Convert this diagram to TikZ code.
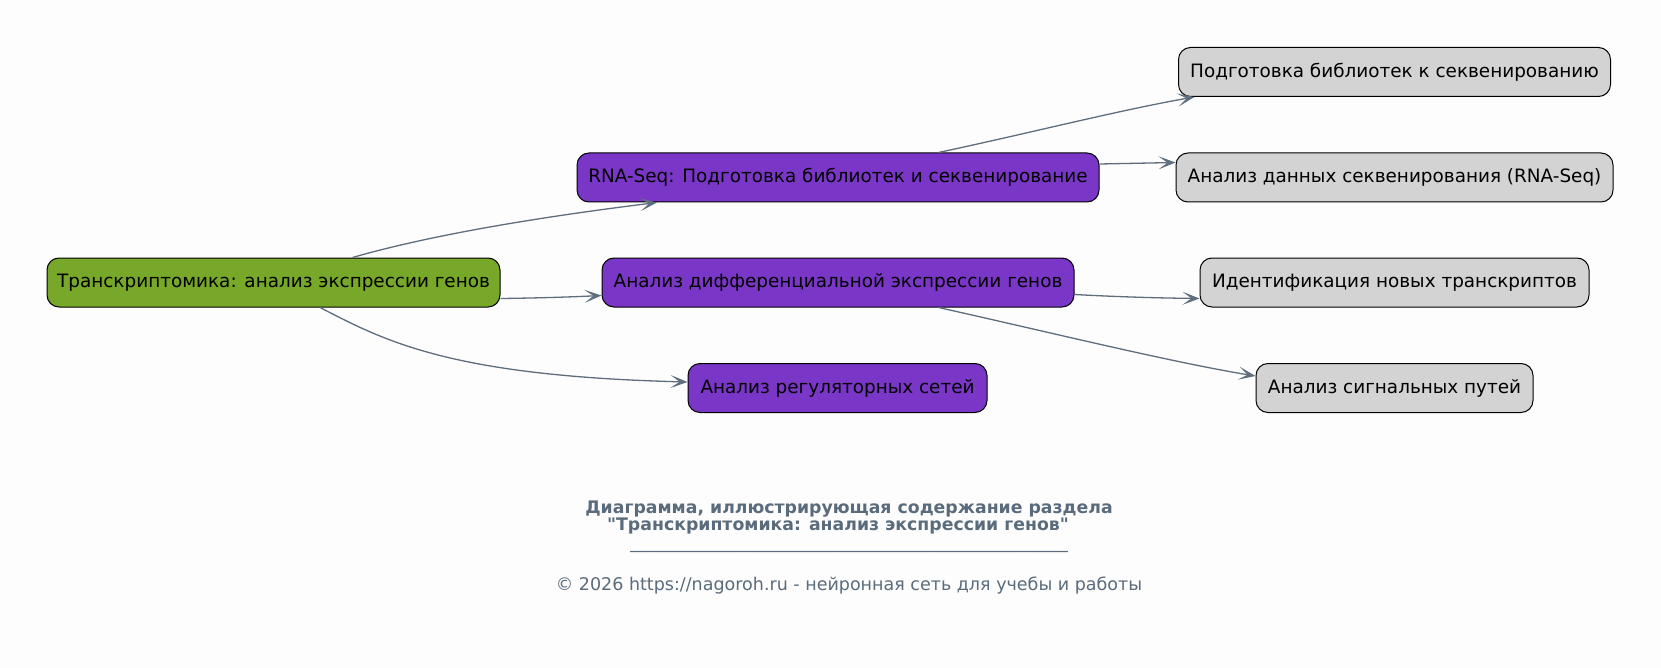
\documentclass[tikz,border=0pt]{standalone}
\usepackage{fontspec}
\setmainfont{DejaVu Sans}[Ligatures=TeXOff]
\usetikzlibrary{arrows.meta}
\definecolor{bgc}{HTML}{FDFDFD}
\definecolor{rootc}{HTML}{77A829}
\definecolor{midc}{HTML}{7A36C6}
\definecolor{leafc}{HTML}{D3D3D3}
\definecolor{edgec}{HTML}{5F6E7D}
\definecolor{titlec}{HTML}{5A6B7C}
\tikzset{
  box/.style={draw=black, line width=1pt, rounded corners=12pt, minimum height=49pt, inner sep=0pt, text=black, font=\fontsize{18.4}{22}\selectfont},
  rootbox/.style={box, fill=rootc},
  midbox/.style={box, fill=midc},
  leafbox/.style={box, fill=leafc},
  conn/.style={draw=edgec, line width=1.3pt, -{Stealth[length=17pt,width=13pt,inset=9pt]}},
  ttl/.style={text=titlec, font=\bfseries\fontsize{17.3}{20}\selectfont, inner sep=0pt},
  copyr/.style={text=titlec, font=\fontsize{17.5}{20}\selectfont, inner sep=0pt}
}
\begin{document}
\begin{tikzpicture}[x=1pt, y=-1pt]
\fill[bgc] (0,0) rectangle (1661,668);
\useasboundingbox (0,0) rectangle (1661,668);
\node[rootbox, minimum width=453pt] (root) at (273.5,282.5) {Транскриптомика: анализ экспрессии генов};
\node[midbox, minimum width=522pt] (rna) at (838,177.5) {RNA-Seq: Подготовка библиотек и секвенирование};
\node[midbox, minimum width=472pt] (diff) at (838,282.5) {Анализ дифференциальной экспрессии генов};
\node[midbox, minimum width=299pt] (reg) at (837.5,388) {Анализ регуляторных сетей};
\node[leafbox, minimum width=432pt] (prep) at (1394.5,72) {Подготовка библиотек к секвенированию};
\node[leafbox, minimum width=437pt] (data) at (1394.5,177.5) {Анализ данных секвенирования (RNA-Seq)};
\node[leafbox, minimum width=389pt] (ident) at (1394.5,282.5) {Идентификация новых транскриптов};
\node[leafbox, minimum width=277pt] (sig) at (1394.5,388) {Анализ сигнальных путей};

\draw[conn] ([xshift=79pt]root.north) .. controls (410,241) and (500,222) .. ([xshift=-181pt]rna.south);
\draw[conn] ([yshift=-16pt]root.east) .. controls (540,298) and (570,297) .. ([yshift=-13pt]diff.west);
\draw[conn] ([xshift=46.5pt]root.south) .. controls (385,341) and (450,376) .. ([yshift=6pt]reg.west);
\draw[conn] ([xshift=100.5pt]rna.north) .. controls (1030,133) and (1120,110) .. ([xshift=-200pt]prep.south);
\draw[conn] ([yshift=13.5pt]rna.east) -- ([yshift=15pt]data.west);
\draw[conn] ([yshift=-12pt]diff.east) .. controls (1120,297) and (1160,298) .. ([yshift=-16pt]ident.west);
\draw[conn] ([xshift=100.5pt]diff.south) .. controls (1040,330) and (1170,362) .. ([yshift=12pt]sig.west);

\node[ttl] (t1) at (849,509) {Диаграмма, иллюстрирующая содержание раздела};
\node[ttl] (t2) at (838,526) {"Транскриптомика: анализ экспрессии генов"};
\node[copyr] (ln) at (849,551) {\_\_\_\_\_\_\_\_\_\_\_\_\_\_\_\_\_\_\_\_\_\_\_\_\_\_\_\_\_\_\_\_\_\_\_\_\_\_\_\_\_\_\_\_\_\_\_\_\_\_};
\node[copyr] (cp) at (849,586) {© 2026 https://nagoroh.ru - нейронная сеть для учебы и работы};
\end{tikzpicture}
\end{document}
